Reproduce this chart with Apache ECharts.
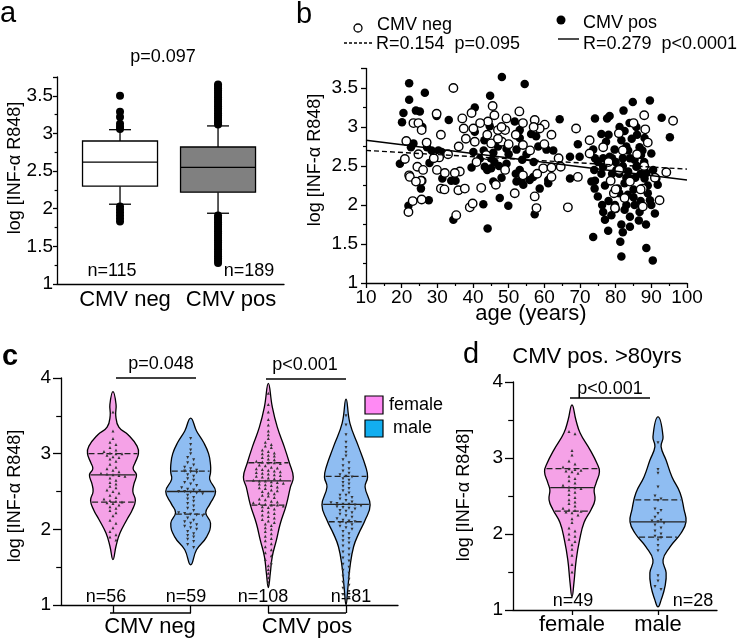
<!DOCTYPE html>
<html>
<head>
<meta charset="utf-8">
<script src="https://cdn.jsdelivr.net/npm/echarts@6/dist/echarts.min.js"></script>
<style>
html,body{margin:0;padding:0;background:#fff;}
#main{width:738px;height:640px;}
</style>
</head>
<body>
<div id="main"></div>
<script>
var FONT = '"Liberation Sans", Arial, sans-serif';

// ---- panel a : boxplot stats [low whisker, Q1, median, Q3, high whisker]
var boxNeg = [2.06, 2.30, 2.62, 2.90, 3.05];
var boxPos = [1.94, 2.22, 2.55, 2.82, 3.10];
var outNeg = [3.50, 3.29, 3.22, 3.13, 3.09, 3.06, 2.03, 1.99, 1.95, 1.91, 1.87, 1.83];
var outPos = [3.12, 3.15, 3.18, 3.21, 3.24, 3.27, 3.30, 3.33, 3.36, 3.39, 3.42, 3.45, 3.48, 3.51, 3.54, 3.57, 3.60, 3.63, 3.65,
  1.91, 1.88, 1.85, 1.82, 1.79, 1.76, 1.73, 1.70, 1.67, 1.64, 1.61, 1.58, 1.55, 1.52, 1.49, 1.46, 1.43, 1.40, 1.37, 1.34, 1.31, 1.28];

// ---- panel b : [age, log value]
var bPos = [[22.1,3.56],[26.5,3.44],[22.1,3.35],[20.5,3.18],[24.0,3.21],[25.1,3.20],[20.1,3.06],[25.8,3.00],[29.8,3.14],[33.2,3.09],
  [40.5,3.25],[44.8,3.40],[48.1,3.64],[54.5,3.55],[40.5,2.94],[44.7,3.01],[43.2,2.83],[51.7,3.07],[53.1,2.96],[23.3,2.79],
  [22.6,2.74],[27.1,2.74],[28.4,2.70],[30.3,2.70],[31.2,2.68],[40.1,2.68],[45.7,2.67],[49.4,2.72],[52.2,2.71],[53.1,2.86],
  [19.5,2.53],[27.8,2.54],[53.8,2.58],[43.3,2.49],[45.1,2.47],[47.3,2.50],[49.4,2.53],[53.1,2.45],[39.6,2.48],[31.4,2.34],
  [33.9,2.31],[45.7,2.30],[53.6,2.32],[64.3,3.10],[74.2,3.11],[77.6,3.11],[78.3,3.14],[82.2,3.21],[84.8,3.32],[89.6,3.34],
  [92.9,3.12],[95.2,2.87],[76.0,2.91],[81.1,3.00],[83.9,3.05],[85.8,3.00],[88.1,2.86],[81.6,2.83],[77.3,2.81],[69.4,2.78],
  [73.7,2.71],[79.7,2.71],[83.0,2.75],[86.7,2.74],[90.0,2.66],[67.2,2.62],[69.9,2.62],[74.2,2.60],[78.3,2.62],[82.0,2.60],
  [85.3,2.58],[87.1,2.64],[57.7,2.88],[58.3,2.75],[60.6,2.71],[62.5,2.70],[56.3,2.91],[56.9,2.36],[61.1,2.32],[67.2,2.34],
  [74.2,2.31],[76.5,2.49],[80.2,2.45],[83.5,2.43],[85.8,2.49],[88.6,2.41],[91.4,2.34],[88.1,2.34],[21.9,1.99],[25.4,2.21],
  [27.6,2.06],[35.1,2.31],[36.1,2.19],[34.5,1.81],[42.9,2.01],[44.1,1.70],[47.5,2.09],[49.9,1.99],[52.2,2.30],[54.1,2.26],
  [58.7,2.21],[57.3,1.88],[73.2,2.30],[74.1,2.21],[75.0,2.11],[76.2,2.00],[76.5,1.91],[77.0,1.81],[73.7,1.59],[77.9,1.67],
  [78.8,1.87],[79.8,2.00],[81.6,1.75],[84.0,1.72],[81.3,1.53],[81.6,1.34],[82.5,1.94],[83.4,2.13],[85.3,2.00],[86.7,1.91],
  [87.2,2.21],[89.6,2.06],[91.0,1.89],[88.6,1.45],[90.4,1.29],[91.8,2.26],[84.3,2.34],[80.6,2.21],[82.5,2.28],[61.1,2.28],
  [55.9,2.32],[80,2.55],[81,2.40],[82,2.50],[83,2.35],[84,2.60],[85,2.20],[86,2.50],[87,2.40],[88,2.55],
  [89,2.25],[84.5,2.85],[86,2.90],[87.5,2.70],[85,2.10],[83,2.00],[81,2.15],[79,2.40],[78,2.05],[77,2.25],
  [76,2.40],[75,2.55],[74,2.45],[89,2.15],[90.5,2.45],[86.5,1.80],[84,1.85],[82,1.65],[80,1.95],[87,2.05],
  [88.5,1.75],[90,2.00],[85.5,2.35],[83.5,2.70],[82.5,2.95],[78,2.90],[76.5,2.60],[79,2.60],[45,2.60],[47,2.75],
  [43,2.70],[50,2.65],[52,2.40],[48,2.35],[44,2.45],[57,2.55],[55,2.65],[46,2.55],[42,2.60]];
var bNeg = [[34.5,3.50],[45.5,3.27],[37.0,3.11],[23.3,3.05],[24.7,3.05],[25.6,2.96],[37.4,2.98],[40.1,2.98],[39.6,3.18],[44.2,3.07],
  [47.0,2.96],[49.0,2.96],[49.4,3.11],[54.0,3.05],[21.3,2.82],[40.5,2.81],[45.1,2.79],[48.1,2.81],[54.0,2.77],[24.7,2.65],
  [30.5,2.61],[43.7,2.64],[20.9,2.59],[24.4,2.49],[22.1,2.38],[25.6,2.31],[29.9,2.45],[32.1,2.41],[36.3,2.43],[34.9,2.41],
  [29.8,3.17],[57.3,3.09],[60.1,3.03],[58.7,2.98],[68.9,2.98],[72.7,2.83],[76.5,2.74],[80.9,2.92],[88.3,2.97],[96.1,3.08],
  [94.2,2.42],[59.7,2.47],[62.0,2.48],[64.6,2.49],[69.4,2.36],[78.6,2.31],[72.7,2.66],[62.0,2.36],[21.9,1.91],[23.1,2.05],
  [25.6,2.07],[25.4,2.31],[31.0,2.21],[35.9,2.19],[37.7,2.21],[35.3,1.87],[39.1,1.97],[39.9,2.02],[42.3,2.22],[46.4,2.26],
  [51.7,2.15],[22.3,2.36],[57.3,2.11],[57.8,1.96],[66.6,1.97],[79.5,2.15],[79.8,1.96],[82.5,2.09],[87.6,2.21],[87.6,1.98],
  [92.3,2.06],[44,2.90],[47,2.85],[52,2.90],[50,2.78],[42,3.05],[46,3.15],[53,3.20],[27,2.80],[29,2.60],
  [33,2.65],[38,2.85],[56,2.70],[60,2.78],[84,2.30],[86,2.65],[88,2.50],[82,2.70],[80,2.20],[91,2.35],
  [85,3.05],[32,2.20],[26,2.45],[36,2.75],[41,2.55],[49,2.45],[54,2.38],[58,2.40],[31,2.90],[24,2.30],
  [88,3.15],[87,2.20],[89,2.80],[78,2.55],[81,2.45],[64,2.60],[62,2.90],[57,3.00],[48,3.00]];
var fitNeg = [[10, 2.70], [100, 2.46]];
var fitPos = [[10, 2.83], [100, 2.32]];

// ---- panel c / d : individual values
var cNegF = [3.55,3.30,3.20,3.15,3.12,3.08,3.05,3.03,3.01,3.00, 3.00,2.98,2.96,2.95,2.93,2.90,2.86,2.82,2.80,2.78,
  2.76,2.74,2.73,2.72,2.71,2.70,2.68,2.65,2.62,2.60, 2.57,2.55,2.52,2.50,2.48,2.45,2.42,2.40,2.38,2.37,
  2.36,2.35,2.34,2.32,2.30,2.28,2.25,2.22,2.18,2.12, 2.08,2.02,1.97,1.93,1.90,1.86];
var cNegM = [3.20,3.12,3.05,3.00,2.95,2.92,2.88,2.85,2.82,2.80, 2.78,2.77,2.76,2.75,2.72,2.70,2.67,2.65,2.62,2.60,
  2.58,2.55,2.53,2.52,2.51,2.50,2.50,2.49,2.48,2.47, 2.45,2.42,2.40,2.37,2.34,2.31,2.28,2.25,2.22,2.21,
  2.20,2.19,2.18,2.15,2.12,2.10,2.08,2.06,2.04,2.02, 2.00,1.97,1.94,1.92,1.90,1.87,1.84,1.80,1.76];
var cPosF = [3.80,3.65,3.55,3.45,3.38,3.30,3.25,3.20,3.15,3.12, 3.10,3.08,3.05,3.03,3.01,3.00,2.98,2.97,2.95,2.93,
  2.92,2.90,2.89,2.88,2.88,2.87,2.85,2.84,2.82,2.81, 2.80,2.79,2.78,2.77,2.76,2.75,2.74,2.73,2.72,2.71,
  2.70,2.69,2.68,2.67,2.66,2.65,2.64,2.64,2.63,2.62, 2.61,2.60,2.59,2.58,2.56,2.55,2.54,2.52,2.51,2.50,
  2.48,2.47,2.45,2.44,2.42,2.40,2.39,2.37,2.36,2.35, 2.34,2.33,2.32,2.32,2.31,2.30,2.29,2.27,2.25,2.23,
  2.21,2.19,2.17,2.15,2.13,2.11,2.09,2.07,2.05,2.02, 2.00,1.97,1.94,1.91,1.88,1.85,1.81,1.77,1.73,1.69,
  1.65,1.60,1.56,1.52,1.47,1.42,1.36,1.30];
var cPosM = [3.50,3.38,3.25,3.15,3.08,3.02,2.97,2.92,2.88,2.84, 2.80,2.77,2.74,2.72,2.70,2.69,2.67,2.65,2.62,2.60,
  2.57,2.54,2.51,2.48,2.45,2.42,2.40,2.38,2.36,2.35, 2.34,2.33,2.33,2.32,2.31,2.30,2.29,2.28,2.27,2.25,
  2.24,2.22,2.20,2.18,2.16,2.14,2.12,2.11,2.10,2.09, 2.08,2.06,2.04,2.02,2.00,1.97,1.94,1.91,1.88,1.85,
  1.82,1.78,1.74,1.70,1.66,1.62,1.58,1.54,1.50,1.46, 1.42,1.38,1.34,1.30,1.26,1.22,1.18,1.14,1.10,1.06,2.45];
var dF = [3.35,3.32,3.10,3.04,2.96,2.92,2.88,2.86,2.85,2.84, 2.83,2.82,2.80,2.76,2.73,2.70,2.67,2.64,2.62,2.61,
  2.60,2.58,2.55,2.52,2.48,2.45,2.42,2.40,2.37,2.34, 2.32,2.31,2.30,2.29,2.28,2.25,2.20,2.15,2.08,2.04,
  2.00,1.97,1.93,1.90,1.86,1.80,1.72,1.60,1.50];
var dM = [3.20,2.85,2.80,2.62,2.50,2.46,2.44,2.33,2.31,2.27, 2.22,2.18,2.17,2.16,2.14,2.12,2.08,2.04,2.00,1.97,
  1.95,1.92,1.85,1.78,1.45,1.38,1.31,1.27];

// violin density profiles [value, relative density], top to bottom
var profNegF = [[3.82,0],[3.65,0.11],[3.5,0.10],[3.35,0.21],[3.25,0.54],[3.1,0.86],[3.0,0.91],[2.88,0.79],[2.8,0.72],[2.72,0.84],
  [2.6,0.75],[2.5,0.71],[2.38,0.80],[2.25,0.68],[2.13,0.50],[1.95,0.25],[1.78,0.11],[1.6,0]];
var profNegM = [[3.47,0],[3.3,0.21],[3.15,0.46],[3.0,0.64],[2.85,0.71],[2.75,0.71],[2.66,0.68],[2.5,0.89],[2.33,0.68],[2.22,0.54],
  [2.08,0.71],[1.9,0.57],[1.73,0.21],[1.53,0]];
var profPosF = [[3.93,0],[3.62,0.14],[3.35,0.32],[3.09,0.57],[2.88,0.75],[2.69,0.89],[2.56,0.79],[2.32,0.64],[2.08,0.43],[1.86,0.29],
  [1.64,0.14],[1.42,0.07],[1.23,0]];
var profPosM = [[3.72,0],[3.40,0.14],[3.09,0.45],[2.83,0.70],[2.69,0.77],[2.56,0.68],[2.32,0.86],[2.12,0.68],[1.95,0.46],[1.77,0.27],
  [1.50,0.14],[1.24,0.07],[1.0,0]];
var profDF = [[3.70,0],[3.50,0.14],[3.33,0.29],[3.11,0.64],[2.93,0.89],[2.82,0.98],[2.67,0.86],[2.58,0.79],[2.45,0.82],[2.32,0.68],
  [2.15,0.43],[1.92,0.27],[1.66,0.15],[1.36,0.07],[1.17,0]];
var profDM = [[3.54,0],[3.28,0.18],[3.15,0.11],[2.97,0.29],[2.75,0.50],[2.54,0.79],[2.32,0.93],[2.16,1.0],[2.01,0.82],[1.83,0.43],
  [1.66,0.18],[1.49,0.29],[1.31,0.25],[1.13,0.11],[1.04,0]];
// quartiles [Q1, median, Q3]
var qNegF = [2.36, 2.72, 3.00], qNegM = [2.20, 2.50, 2.77];
var qPosF = [2.32, 2.64, 2.88], qPosM = [2.10, 2.33, 2.70];
var qDF = [2.30, 2.61, 2.86], qDM = [1.96, 2.16, 2.45];

var PINK = '#f5a2e7', BLUE = '#8fbdf2';
var VW = 28;      // px per unit density
var BIN = 0.045, DS = 6;

function halfAt(prof, v) {
  for (var i = 0; i < prof.length - 1; i++) {
    var a = prof[i], b = prof[i + 1];
    if (v <= a[0] && v >= b[0]) {
      var t = (a[0] - v) / (a[0] - b[0]);
      return a[1] + t * (b[1] - a[1]);
    }
  }
  return 0;
}

function renderViolin(profiles, quarts, fills) {
  return function (params, api) {
    var x = api.value(0), g = api.value(1);
    var prof = profiles[g], right = [], left = [];
    prof.forEach(function (p) {
      var c = api.coord([x, p[0]]);
      right.push([c[0] + p[1] * VW, c[1]]);
      left.unshift([c[0] - p[1] * VW, c[1]]);
    });
    var pts = right.concat(left.slice(1, -1));
    var kids = [{ type: 'polygon', shape: { points: pts, smooth: 0.45 },
      style: { fill: fills[g], stroke: '#000', lineWidth: 1.3 } }];
    quarts[g].forEach(function (q, k) {
      var c = api.coord([x, q]), h = halfAt(prof, q) * VW - 1;
      kids.push({ type: 'line', shape: { x1: c[0] - h, y1: c[1], x2: c[0] + h, y2: c[1] },
        style: { stroke: '#222', lineWidth: 1.3, lineDash: k === 1 ? null : [6, 3] } });
    });
    return { type: 'group', children: kids };
  };
}

function swarm(x, values, up) {
  var sorted = values.slice().sort(function (a, b) { return b - a; });
  var out = [], row = [], start = null;
  function flush() {
    row.forEach(function (v, i) { out.push([x, v, i - (row.length - 1) / 2, up]); });
    row = [];
  }
  sorted.forEach(function (v) {
    if (start === null || start - v > BIN) { flush(); start = v; }
    row.push(v);
  });
  flush();
  return out;
}

function renderDot(params, api) {
  var c = api.coord([api.value(0), api.value(1)]);
  var cx = c[0] + api.value(2) * DS, cy = c[1], s = 1.5;
  var pts = api.value(3) ? [[cx, cy - s], [cx - s, cy + s], [cx + s, cy + s]]
                         : [[cx, cy + s], [cx - s, cy - s], [cx + s, cy - s]];
  return { type: 'polygon', shape: { points: pts }, style: { fill: '#333' } };
}

var boxFill = ['#ffffff', '#808080'];
function renderBox(params, api) {
  var x = api.value(0);
  var lo = api.coord([x, api.value(1)]), q1 = api.coord([x, api.value(2)]), md = api.coord([x, api.value(3)]),
      q3 = api.coord([x, api.value(4)]), hi = api.coord([x, api.value(5)]);
  var cx = lo[0], hw = 37.5, cw = 11;
  var ls = { stroke: '#000', lineWidth: 1.3 };
  return { type: 'group', children: [
    { type: 'line', shape: { x1: cx, y1: q3[1], x2: cx, y2: hi[1] }, style: ls },
    { type: 'line', shape: { x1: cx, y1: q1[1], x2: cx, y2: lo[1] }, style: ls },
    { type: 'line', shape: { x1: cx - cw, y1: hi[1], x2: cx + cw, y2: hi[1] }, style: ls },
    { type: 'line', shape: { x1: cx - cw, y1: lo[1], x2: cx + cw, y2: lo[1] }, style: ls },
    { type: 'rect', shape: { x: cx - hw, y: q3[1], width: 2 * hw, height: q1[1] - q3[1] },
      style: { fill: boxFill[params.dataIndex], stroke: '#000', lineWidth: 1.3 } },
    { type: 'line', shape: { x1: cx - hw, y1: md[1], x2: cx + hw, y2: md[1] }, style: ls }
  ] };
}

function yAx(gi, max, interval, margin, tickLen) {
  return {
    type: 'value', gridIndex: gi, min: 1, max: max, interval: interval,
    axisLine: { show: true, lineStyle: { color: '#000', width: 1.3 } },
    axisTick: { show: true, length: tickLen, lineStyle: { color: '#000', width: 1.3 } },
    minorTick: { show: true, splitNumber: 2, length: tickLen * 0.6, lineStyle: { color: '#000', width: 1.2 } },
    axisLabel: { color: '#000', fontSize: 19, fontFamily: FONT, margin: margin, showMaxLabel: max % interval === 0 },
    splitLine: { show: false }
  };
}
function xAxCat(gi, min, max, ticks, tickLen) {
  return {
    type: 'value', gridIndex: gi, min: min, max: max,
    axisLine: { show: true, lineStyle: { color: '#000', width: 1.3 } },
    axisTick: { show: ticks.length > 0, customValues: ticks, length: tickLen, lineStyle: { color: '#000', width: 1.3 } },
    axisLabel: { show: false },
    splitLine: { show: false }
  };
}

function T(x, y, s, size, align, opt) {
  opt = opt || {};
  var o = { type: 'text', x: x, y: y, silent: true,
    style: { text: s, fill: '#000', font: (opt.bold ? 'bold ' : '') + size + 'px ' + FONT,
      textAlign: align || 'center', textVerticalAlign: 'middle' } };
  if (opt.rot) { o.rotation = Math.PI / 2; }
  return o;
}
function L(x1, y1, x2, y2, dash) {
  return { type: 'line', silent: true, shape: { x1: x1, y1: y1, x2: x2, y2: y2 },
    style: { stroke: '#000', lineWidth: 1.4, lineDash: dash || null } };
}

var YT = 'log [INF-α R848]';
var graphics = [
  T(0, 14, 'a', 29, 'left'), T(296, 15, 'b', 29, 'left'), T(2, 357, 'c', 29, 'left', { bold: true }), T(463, 355, 'd', 29, 'left'),
  // panel a
  T(163, 57, 'p=0.097', 18), T(15, 168, YT, 18, 'center', { rot: true }),
  T(112, 271, 'n=115', 18), T(249, 271, 'n=189', 18),
  T(125, 300, 'CMV neg', 22), T(231, 300, 'CMV pos', 22),
  // panel b
  T(315, 160, YT, 18, 'center', { rot: true }), T(531, 314, 'age (years)', 22),
  { type: 'circle', shape: { cx: 358, cy: 28, r: 4 }, style: { fill: '#fff', stroke: '#000', lineWidth: 1.3 } },
  T(377, 25, 'CMV neg', 18, 'left'), L(344, 43, 372, 43, [3, 2]), T(376, 44, 'R=0.154  p=0.095', 18, 'left'),
  { type: 'circle', shape: { cx: 561, cy: 20, r: 4.5 }, style: { fill: '#000' } },
  T(583, 23, 'CMV pos', 18, 'left'), L(558, 39, 579, 39), T(583, 44, 'R=0.279  p<0.0001', 18, 'left'),
  // panel c
  T(15, 496, YT, 18, 'center', { rot: true }),
  T(161, 364, 'p=0.048', 18), L(116, 378, 196, 378),
  T(305, 365, 'p<0.001', 18), L(266, 379, 346, 379),
  T(106, 597, 'n=56', 18), T(186, 597, 'n=59', 18), T(263, 597, 'n=108', 18), T(351, 597, 'n=81', 18),
  L(110, 613, 191, 613), L(268, 613, 346, 613),
  T(150, 627, 'CMV neg', 22), T(307, 627, 'CMV pos', 22),
  { type: 'rect', shape: { x: 365, y: 396, width: 18, height: 18 }, style: { fill: '#ff8af4', stroke: '#000', lineWidth: 1.2 } },
  T(389, 405, 'female', 18, 'left'),
  { type: 'rect', shape: { x: 365, y: 420, width: 18, height: 17 }, style: { fill: '#12aef0', stroke: '#000', lineWidth: 1.2 } },
  T(393, 428, 'male', 18, 'left'),
  // panel d
  T(464, 495, YT, 18, 'center', { rot: true }),
  T(597, 357, 'CMV pos. >80yrs', 22),
  T(610, 389, 'p<0.001', 18), L(570, 398, 650, 398),
  T(573, 601, 'n=49', 18), T(693, 601, 'n=28', 18),
  T(572, 625, 'female', 22), T(658, 625, 'male', 22)
];

var chart = echarts.init(document.getElementById('main'), null, { renderer: 'canvas' });
chart.setOption({
  animation: false,
  backgroundColor: '#fff',
  grid: [
    { left: 57, top: 77, width: 227, height: 207 },
    { left: 366, top: 68.5, width: 321, height: 214.5 },
    { left: 61, top: 378, width: 337, height: 227 },
    { left: 513, top: 382, width: 204, height: 228 }
  ],
  xAxis: [
    xAxCat(0, 0.357, 2.673, [], 0),
    {
      type: 'value', gridIndex: 1, min: 10, max: 100, interval: 10,
      axisLine: { show: true, lineStyle: { color: '#000', width: 1.3 } },
      axisTick: { show: true, length: 5, lineStyle: { color: '#000', width: 1.3 } },
      minorTick: { show: true, splitNumber: 2, length: 3, lineStyle: { color: '#000', width: 1.2 } },
      axisLabel: { color: '#000', fontSize: 19, fontFamily: FONT, margin: 5 },
      splitLine: { show: false }
    },
    xAxCat(2, 0.331, 4.669, [1, 2, 3, 4], 8),
    xAxCat(3, 0.314, 2.686, [1, 2], 5)
  ],
  yAxis: [
    yAx(0, 3.75, 0.5, 4, 4),
    yAx(1, 3.75, 0.5, 8, 5),
    yAx(2, 4, 1, 10, 8),
    yAx(3, 4, 1, 10, 8)
  ],
  graphic: graphics,
  series: [
    { type: 'custom', xAxisIndex: 0, yAxisIndex: 0, renderItem: renderBox,
      data: [[1].concat(boxNeg), [2].concat(boxPos)] },
    { type: 'scatter', xAxisIndex: 0, yAxisIndex: 0, symbolSize: 8, itemStyle: { color: '#000', opacity: 1 },
      data: outNeg.map(function (v) { return [1, v]; }).concat(outPos.map(function (v) { return [2, v]; })) },
    { type: 'scatter', xAxisIndex: 1, yAxisIndex: 1, symbolSize: 8.5, itemStyle: { color: '#000', opacity: 1 }, data: bPos },
    { type: 'scatter', xAxisIndex: 1, yAxisIndex: 1, symbolSize: 8.5,
      itemStyle: { color: '#fff', borderColor: '#000', borderWidth: 1.4, opacity: 1 }, data: bNeg },
    { type: 'line', xAxisIndex: 1, yAxisIndex: 1, data: fitNeg, symbol: 'none', z: 5,
      lineStyle: { color: '#000', width: 1.4, type: [5, 3] } },
    { type: 'line', xAxisIndex: 1, yAxisIndex: 1, data: fitPos, symbol: 'none', z: 5,
      lineStyle: { color: '#000', width: 1.4 } },
    { type: 'custom', xAxisIndex: 2, yAxisIndex: 2,
      renderItem: renderViolin([profNegF, profNegM, profPosF, profPosM], [qNegF, qNegM, qPosF, qPosM], [PINK, BLUE, PINK, BLUE]),
      data: [[1, 0], [2, 1], [3, 2], [4, 3]] },
    { type: 'custom', xAxisIndex: 2, yAxisIndex: 2, renderItem: renderDot,
      data: swarm(1, cNegF, 1).concat(swarm(2, cNegM, 0), swarm(3, cPosF, 1), swarm(4, cPosM, 0)) },
    { type: 'custom', xAxisIndex: 3, yAxisIndex: 3,
      renderItem: renderViolin([profDF, profDM], [qDF, qDM], [PINK, BLUE]),
      data: [[1, 0], [2, 1]] },
    { type: 'custom', xAxisIndex: 3, yAxisIndex: 3, renderItem: renderDot,
      data: swarm(1, dF, 1).concat(swarm(2, dM, 0)) }
  ]
});
</script>
</body>
</html>
